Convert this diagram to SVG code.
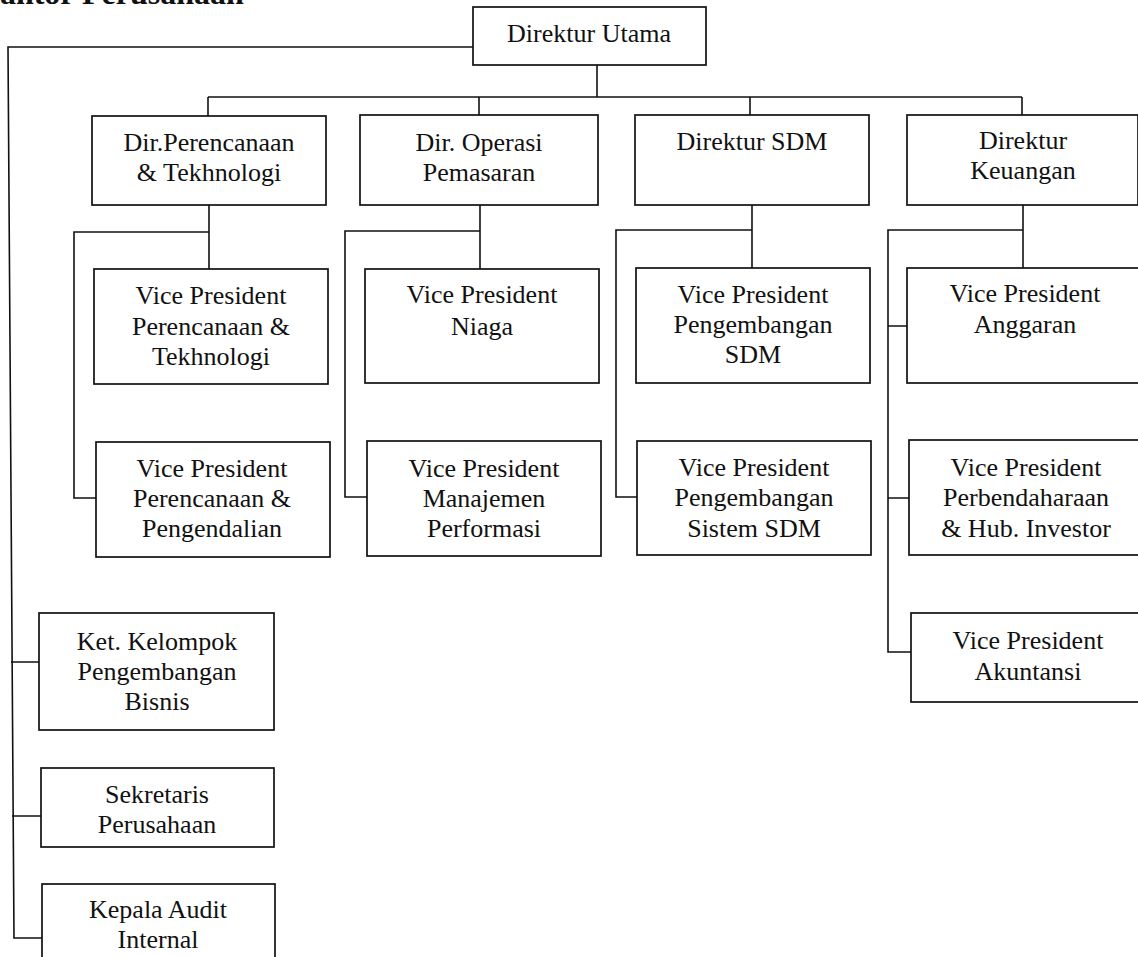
<svg xmlns="http://www.w3.org/2000/svg" width="1138" height="957" viewBox="0 0 1138 957">
<style>
.box{fill:#fff;stroke:#111;stroke-width:1.7}
.ln{fill:none;stroke:#111;stroke-width:1.6}
text{font-family:"Liberation Serif","Times New Roman",serif;font-size:26px;fill:#111;text-anchor:middle}
.title{font-weight:bold;font-size:32px;text-anchor:start}
</style>
<rect width="1138" height="957" fill="#fff"/>
<text class="title" x="-25" y="4">Kantor Perusahaan</text>
<g id="connectors">
<path class="ln" d="M473,47 H8 L14,938 H42"/>
<path class="ln" d="M11,662 H39 M12,816 H41"/>
<path class="ln" d="M597,65 V97 M208,97 H1022 M208,97 V116 M479,97 V115 M750,97 V115 M1022,97 V115"/>
<path class="ln" d="M209,205 V269 M209,232 H74 V498 H96"/>
<path class="ln" d="M480,205 V269 M480,231 H345 V497 H367"/>
<path class="ln" d="M752,205 V268 M752,230 H616 V497 H637"/>
<path class="ln" d="M1023,205 V268 M1023,230 H888 V652 H911 M888,326 H907 M888,498 H909"/>
</g>
<g id="dirut"><rect class="box" x="473" y="7" width="233" height="58"/><text x="589" y="42">Direktur Utama</text></g>
<g id="dir-perencanaan"><rect class="box" x="92" y="116" width="234" height="89"/><text x="209" y="151">Dir.Perencanaan</text><text x="209" y="181">&amp; Tekhnologi</text></g>
<g id="dir-operasi"><rect class="box" x="360" y="115" width="238" height="90"/><text x="479" y="151">Dir. Operasi</text><text x="479" y="181">Pemasaran</text></g>
<g id="dir-sdm"><rect class="box" x="635" y="115" width="234" height="90"/><text x="752" y="150">Direktur SDM</text></g>
<g id="dir-keuangan"><rect class="box" x="907" y="115" width="231" height="90"/><text x="1023" y="149">Direktur</text><text x="1023" y="179">Keuangan</text></g>
<g id="vp-pt"><rect class="box" x="94" y="269" width="234" height="115"/><text x="211" y="304">Vice President</text><text x="211" y="335">Perencanaan &amp;</text><text x="211" y="365">Tekhnologi</text></g>
<g id="vp-pp"><rect class="box" x="96" y="442" width="234" height="115"/><text x="212" y="477">Vice President</text><text x="212" y="507">Perencanaan &amp;</text><text x="212" y="537">Pengendalian</text></g>
<g id="vp-niaga"><rect class="box" x="365" y="269" width="234" height="114"/><text x="482" y="303">Vice President</text><text x="482" y="335">Niaga</text></g>
<g id="vp-mp"><rect class="box" x="367" y="441" width="234" height="115"/><text x="484" y="477">Vice President</text><text x="484" y="507">Manajemen</text><text x="484" y="537">Performasi</text></g>
<g id="vp-psdm"><rect class="box" x="636" y="268" width="234" height="115"/><text x="753" y="303">Vice President</text><text x="753" y="333">Pengembangan</text><text x="753" y="363">SDM</text></g>
<g id="vp-pssdm"><rect class="box" x="637" y="441" width="234" height="114"/><text x="754" y="476">Vice President</text><text x="754" y="506">Pengembangan</text><text x="754" y="537">Sistem SDM</text></g>
<g id="vp-anggaran"><rect class="box" x="907" y="268" width="232" height="115"/><text x="1025" y="302">Vice President</text><text x="1025" y="333">Anggaran</text></g>
<g id="vp-perbendaharaan"><rect class="box" x="909" y="440" width="230" height="115"/><text x="1026" y="476">Vice President</text><text x="1026" y="506">Perbendaharaan</text><text x="1026" y="537">&amp; Hub. Investor</text></g>
<g id="vp-akuntansi"><rect class="box" x="911" y="613" width="228" height="89"/><text x="1028" y="649">Vice President</text><text x="1028" y="680">Akuntansi</text></g>
<g id="ket-kelompok"><rect class="box" x="39" y="613" width="235" height="117"/><text x="157" y="650">Ket. Kelompok</text><text x="157" y="680">Pengembangan</text><text x="157" y="710">Bisnis</text></g>
<g id="sekretaris"><rect class="box" x="41" y="768" width="233" height="79"/><text x="157" y="803">Sekretaris</text><text x="157" y="833">Perusahaan</text></g>
<g id="kepala-audit"><rect class="box" x="42" y="884" width="233" height="90"/><text x="158" y="918">Kepala Audit</text><text x="158" y="948">Internal</text></g>
</svg>
